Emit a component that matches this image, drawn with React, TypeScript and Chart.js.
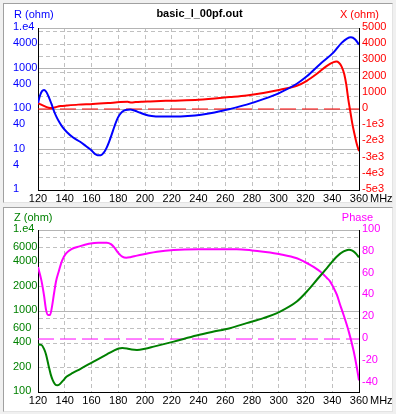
import React, { useEffect, useRef } from "react";
import { Chart, registerables } from "chart.js";
Chart.register(...registerables);

// ---------- data ----------
const TITLE = "basic_l_00pf.out";
const R_TITLE = "R (ohm)";
const X_TITLE = "X (ohm)";
const Z_TITLE = "Z (ohm)";
const PH_TITLE = "Phase";
const UNIT = "MHz";

const freqTicks = [120, 140, 160, 180, 200, 220, 240, 260, 280, 300, 320, 340, 360];

// top panel: R (log) grid / labels, X (linear) labels
const rGrid = [2, 4, 8, 10, 20, 40, 80, 100, 200, 400, 800, 1000, 2000, 4000, 8000, 10000];
const rLabels = [1, 4, 10, 40, 100, 400, 1000, 4000, 10000];
const xTicks = [5000, 4000, 3000, 2000, 1000, 0, -1000, -2000, -3000, -4000, -5000];

// bottom panel: Z (log) grid / labels, Phase labels
const zGrid = [200, 400, 600, 800, 1000, 2000, 4000, 6000, 8000, 10000];
const zLabels = [100, 200, 400, 600, 1000, 2000, 4000, 6000, 10000];
const phaseTicks = [100, 80, 60, 40, 20, 0, -20, -40];

// R (ohm)
const rFreq = [120, 121.5, 123, 124.5, 126, 128, 130, 132, 134, 136, 138.5, 141.5, 146, 151.5, 156, 159.5, 162.5, 164.5, 167, 169, 171, 173, 175, 177, 179, 181, 183, 185.5, 189, 192, 196, 200, 205, 212, 222, 232, 242, 252, 263.5, 276, 288.5, 301, 313.5, 321, 331, 341, 347, 351, 354, 357, 360];
const rValues = [140, 215, 275, 295, 270, 200, 135, 88, 62, 47, 35, 27, 20, 15.5, 12, 9.8, 7.8, 7.2, 7.2, 8.2, 10.5, 15, 23, 36, 54, 72, 86, 95, 97, 92, 82, 73, 67, 65, 65, 67, 72, 82, 100, 128, 175, 255, 420, 640, 1300, 2500, 4300, 5500, 5900, 5300, 3900];

// X (ohm)
const xFreq = [120, 122.5, 126, 128, 130, 132, 134, 137, 141.5, 150, 161, 172.5, 181.5, 187, 190, 193, 198, 204, 220, 240, 263.5, 276, 288.5, 301, 313.5, 321, 328.5, 336, 341, 343, 345, 347, 349, 350.5, 352, 353.5, 355, 356.5, 358, 359, 360];
const xValues = [370, 265, 130, 75, 60, 85, 130, 180, 215, 270, 310, 370, 425, 440, 395, 430, 455, 470, 515, 572, 738, 837, 985, 1188, 1434, 1741, 2172, 2665, 2890, 2930, 2860, 2620, 2150, 1500, 600, -150, -900, -1500, -2050, -2350, -2600];

// Z (ohm)
const zFreq = [120, 122.5, 124.5, 126, 127.8, 129.5, 131, 132.8, 134.5, 136, 138.5, 141.5, 146, 151.5, 161.5, 171.5, 176, 180.3, 183, 186.5, 190, 194, 200, 206.5, 221.5, 238.5, 250, 263.5, 276, 288.5, 301, 313.5, 321, 328.5, 336, 343.5, 348.5, 352.5, 355, 357.3, 360];
const zValues = [385, 382, 340, 290, 216, 165, 140, 124, 121, 124, 137, 155, 172, 192, 237, 292, 320, 345, 350, 345, 335, 331, 342, 363, 419, 497, 550, 614, 708, 816, 985, 1310, 1740, 2430, 3390, 4710, 5430, 5700, 5550, 5200, 4600];

// Phase (deg)
const phFreq = [120, 122.5, 124.5, 126, 127.5, 129, 130.5, 132, 133.5, 135.5, 138, 141, 145, 151, 158, 165, 171.5, 174.5, 177, 180, 183, 186, 189, 194, 200, 209, 221.5, 240, 268.5, 280, 288.5, 301, 313.5, 323.5, 331, 336, 338.5, 341, 343.5, 346, 348.5, 352.3, 356, 358.5, 360];
const phValues = [66, 54, 40, 27, 22, 22, 30, 42, 53, 62, 72, 78.5, 82.5, 85, 87.3, 88.4, 88.4, 87, 84, 79, 75.5, 74.5, 75, 76.5, 78, 80.1, 81.7, 82.3, 82.3, 81.3, 80.1, 77.8, 74.1, 68, 62, 56, 52.7, 47, 40.5, 31, 22, 7, -11, -27, -38];

// ---------- style ----------
const FONT = '"Liberation Sans", Arial, sans-serif';
const BLUE = "#0000ff";
const RED = "#ff0000";
const GREEN = "#008000";
const MAGENTA = "#ff00ff";
const GRID_DASH = "#c0c0c0";
const GRID_SOLID = "#b4b4b4";
const tickFont = { family: FONT, size: 11 };
const X_LABEL_PAD = 2;

const isDecade = (v: number) => Math.abs(Math.log10(v) - Math.round(Math.log10(v))) < 1e-9;
const pts = (xs: number[], ys: number[]) => xs.map((x, i) => ({ x, y: ys[i] }));
const logLabel = (v: number) => (v === 10000 ? "1.e4" : String(v));

function logAxis(min: number, max: number, grid: number[], labels: number[], color: string) {
  const all = Array.from(new Set([...grid, ...labels])).sort((a, b) => a - b);
  return {
    type: "logarithmic",
    position: "left",
    min,
    max,
    afterBuildTicks: (s: any) => {
      s.ticks = all.map((v) => ({ value: v }));
    },
    afterFit: (s: any) => {
      s.width = 25;
    },
    ticks: {
      autoSkip: false,
      color,
      font: tickFont,
      crossAlign: "far",
      padding: 0,
      labelOffset: -1,
      callback: (v: number) => (labels.includes(v) ? logLabel(v) : ""),
    },
    grid: {
      drawTicks: false,
      color: (ctx: any) => {
        const v = ctx.tick && ctx.tick.value;
        if (v == null || !grid.includes(v)) return "rgba(0,0,0,0)";
        return isDecade(v) ? GRID_SOLID : GRID_DASH;
      },
    },
    border: {
      color: "#000",
      dash: (ctx: any) => (ctx.tick && !isDecade(ctx.tick.value) ? [4, 3] : []),
    },
  };
}

function rightAxis(min: number, max: number, ticks: number[], color: string, fmt: (v: number) => string) {
  return {
    type: "linear",
    position: "right",
    min,
    max,
    afterBuildTicks: (s: any) => {
      s.ticks = ticks.map((v) => ({ value: v }));
    },
    afterFit: (s: any) => {
      s.width = 37;
    },
    ticks: { autoSkip: false, color, font: tickFont, padding: 3, labelOffset: -1, callback: fmt },
    grid: { drawOnChartArea: false, drawTicks: false },
    border: { color: "#000" },
  };
}

function freqAxis(height: number) {
  return {
    type: "linear",
    position: "bottom",
    min: 120,
    max: 360,
    afterBuildTicks: (s: any) => {
      s.ticks = freqTicks.map((v) => ({ value: v }));
    },
    afterFit: (s: any) => {
      s.height = height;
    },
    ticks: { autoSkip: false, maxRotation: 0, color: "#000", font: tickFont, padding: X_LABEL_PAD, callback: (v: number) => String(v) },
    grid: {
      drawTicks: false,
      color: (ctx: any) => {
        const v = ctx.tick && ctx.tick.value;
        if (v == null || v === 120 || v === 360) return "rgba(0,0,0,0)";
        return GRID_DASH;
      },
    },
    border: { color: "#000", dash: (ctx: any) => (ctx.tick ? [4, 3] : []) },
  };
}

function textPlugin(left: string, leftColor: string, right: string, rightColor: string, title: string | null, textY: number) {
  return {
    id: "panelText",
    afterDraw(chart: any) {
      const c = chart.ctx;
      const a = chart.chartArea;
      c.save();
      c.textBaseline = "middle";
      if (title) {
        c.font = `bold 11px ${FONT}`;
        c.fillStyle = "#000";
        c.textAlign = "center";
        c.fillText(title, (a.left + a.right) / 2 + 1, textY - 1);
      }
      c.font = `11px ${FONT}`;
      c.fillStyle = leftColor;
      c.textAlign = "left";
      c.fillText(left, 14, textY);
      c.fillStyle = rightColor;
      c.textAlign = "right";
      c.fillText(right, a.right + (title ? 20 : 14), textY);
      c.fillStyle = "#000";
      c.textAlign = "left";
      c.fillText(UNIT, a.right + 11, a.bottom + X_LABEL_PAD + 6.6);
      c.restore();
    },
  };
}

const lineDs = (data: any[], color: string, axis: string) => ({
  data,
  yAxisID: axis,
  borderColor: color,
  borderWidth: 2,
  pointRadius: 0,
  cubicInterpolationMode: "monotone",
  fill: false,
});

const zeroDs = (color: string, axis: string) => ({
  data: [
    { x: 120, y: 0 },
    { x: 360, y: 0 },
  ],
  yAxisID: axis,
  borderColor: color,
  borderWidth: 1,
  borderDash: [16, 6],
  pointRadius: 0,
  fill: false,
});

const baseOptions = (padTop: number, scales: any) => ({
  responsive: false,
  maintainAspectRatio: false,
  animation: false,
  devicePixelRatio: 1,
  layout: { padding: { left: 13, right: 0, top: padTop, bottom: 0 } },
  plugins: { legend: { display: false }, tooltip: { enabled: false }, title: { display: false } },
  elements: { line: { tension: 0 } },
  scales,
});

export default function App() {
  const topRef = useRef<HTMLCanvasElement>(null);
  const botRef = useRef<HTMLCanvasElement>(null);

  useEffect(() => {
    document.body.style.margin = "0";
    const top = new Chart(topRef.current as HTMLCanvasElement, {
      type: "line",
      data: {
        datasets: [
          lineDs(pts(rFreq, rValues), BLUE, "y"),
          lineDs(pts(xFreq, xValues), RED, "y2"),
          zeroDs(RED, "y2"),
        ] as any,
      },
      options: baseOptions(28, {
        x: freqAxis(16),
        y: logAxis(1, 10000, rGrid, rLabels, BLUE),
        y2: rightAxis(-5000, 5000, xTicks, RED, (v: number) => (v < 0 ? `-${-v / 1000}e3` : String(v))),
      }) as any,
      plugins: [textPlugin(R_TITLE, BLUE, X_TITLE, RED, TITLE, 15) as any],
    });
    const bot = new Chart(botRef.current as HTMLCanvasElement, {
      type: "line",
      data: {
        datasets: [
          lineDs(pts(zFreq, zValues), GREEN, "y"),
          lineDs(pts(phFreq, phValues), MAGENTA, "y2"),
          zeroDs(MAGENTA, "y2"),
        ] as any,
      },
      options: baseOptions(24, {
        x: freqAxis(22),
        y: logAxis(100, 10000, zGrid, zLabels, GREEN),
        y2: rightAxis(-48.6, 100, phaseTicks, MAGENTA, (v: number) => String(v)),
      }) as any,
      plugins: [textPlugin(Z_TITLE, GREEN, PH_TITLE, MAGENTA, null, 12) as any],
    });
    return () => {
      top.destroy();
      bot.destroy();
    };
  }, []);

  const panel = (t: number, h: number): React.CSSProperties => ({
    position: "absolute",
    left: 3,
    top: t,
    width: 388,
    height: h,
    background: "#ffffff",
    borderStyle: "solid",
    borderWidth: 1,
    borderColor: "#a0a0a0 #e3e3e3 #e3e3e3 #a0a0a0",
  });

  return (
    <div style={{ position: "fixed", left: 0, top: 0, width: 396, height: 414, background: "#f0f0f0", overflow: "hidden" }}>
      <div style={panel(3, 198)} />
      <div style={panel(207, 203)} />
      <canvas ref={topRef} width={396} height={206} style={{ position: "absolute", left: 0, top: 0 }} />
      <canvas ref={botRef} width={396} height={208} style={{ position: "absolute", left: 0, top: 206 }} />
    </div>
  );
}
